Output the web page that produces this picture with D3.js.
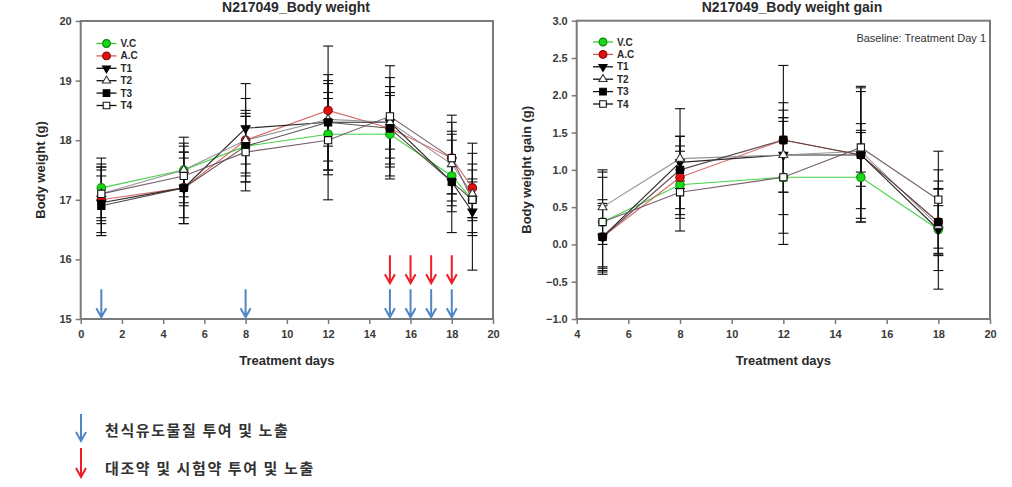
<!DOCTYPE html>
<html><head><meta charset="utf-8">
<script src="https://cdn.jsdelivr.net/npm/d3@7"></script>
<style>
body{margin:0;background:#fff;}
svg{display:block;font-family:"Liberation Sans",Arial,sans-serif;}
</style></head>
<body><svg id="c" width="1012" height="487"></svg>
<script>
// ---------- DATA ----------
const seriesNames = ["V.C","A.C","T1","T2","T3","T4"];
const daysBW = [1,5,8,12,15,18,19];
const bwVC = [17.2,17.5,17.9,18.1,18.1,17.4,17.0];
const bwAC = [17.0,17.2,18.0,18.5,18.2,17.7,17.2];
const bwT1 = [16.95,17.2,18.2,18.3,18.3,17.3,16.8];
const bwT2 = [17.1,17.5,18.0,18.35,18.3,17.6,17.1];
const bwT3 = [16.9,17.2,17.9,18.3,18.2,17.3,17.0];
const bwT4 = [17.1,17.4,17.8,18.0,18.4,17.7,17.0];
const bwSdVC = [0.5,0.55,0.5,0.6,0.7,0.6,0.3];
const bwSdAC = [0.55,0.6,0.7,1.08,0.6,0.6,0.75];
const bwSdT1 = [0.55,0.5,0.75,0.65,0.45,0.4,0.98];
const bwSdT2 = [0.45,0.45,0.4,0.45,0.6,0.5,0.4];
const bwSdT3 = [0.5,0.6,0.6,0.8,0.85,0.85,0.35];
const bwSdT4 = [0.5,0.5,0.65,1.0,0.85,0.72,0.6];

const daysG = [5,8,12,15,18];
const gVC = [0.3,0.8,0.9,0.9,0.2];
const gAC = [0.1,0.9,1.4,1.2,0.3];
const gT1 = [0.1,1.1,1.2,1.2,0.2];
const gT2 = [0.5,1.15,1.2,1.25,0.25];
const gT3 = [0.1,1.0,1.4,1.2,0.3];
const gT4 = [0.3,0.7,0.9,1.3,0.6];
const gSdVC = [0.6,0.45,0.75,0.6,0.8];
const gSdAC = [0.5,0.42,0.5,0.85,0.44];
const gSdT1 = [0.45,0.35,0.5,0.42,0.32];
const gSdT2 = [0.5,0.3,0.5,0.28,0.6];
const gSdT3 = [0.42,0.82,1.0,0.9,0.45];
const gSdT4 = [0.67,0.3,0.9,0.82,0.65];

const bwXTicks = [0,2,4,6,8,10,12,14,16,18,20];
const bwYTicks = [15,16,17,18,19,20];
const gXTicks = [4,6,8,10,12,14,16,18,20];
const gYTicks = [-1.0,-0.5,0.0,0.5,1.0,1.5,2.0,2.5,3.0];

const inductionDays = [1,8,15,16,17,18];
const treatmentDays = [15,16,17,18];
const legendTexts = ["천식유도물질 투여 및 노출","대조약 및 시험약 투여 및 노출"];

// ---------- STYLE ----------
const styles = {
  "V.C":{line:"#33cc33", sym:d3.symbolCircle, size:56, fill:"#19d819", stroke:"#0a8a0a", rot:0},
  "A.C":{line:"#d45a5a", sym:d3.symbolCircle, size:56, fill:"#e01010", stroke:"#8a0a0a", rot:0},
  "T1":{line:"#111111", sym:d3.symbolTriangle, size:34, fill:"#000", stroke:"#000", rot:180},
  "T2":{line:"#8a8a8a", sym:d3.symbolTriangle, size:34, fill:"#fff", stroke:"#333", rot:0},
  "T3":{line:"#4a3a3a", sym:d3.symbolSquare, size:52, fill:"#000", stroke:"#000", rot:0},
  "T4":{line:"#6a5060", sym:d3.symbolSquare, size:52, fill:"#fff", stroke:"#111", rot:0}
};
const frameColor = "#7a7a7a";
const textColor = "#2a2a2a";

const svg = d3.select("#c");
svg.append("rect").attr("width",1012).attr("height",487).attr("fill","#fff");

function panel(opts){
  const {x, y, xTicks, yTicks, yFmt, days, vals, sds, title, ytitle, ytitleX, titleX, legendX, legendY} = opts;
  const g = svg.append("g");
  const [x0,x1] = x.range(), [y0,y1] = y.range();
  seriesNames.forEach((s,i)=>{
    const pts = days.map((d,j)=>({d, v:vals[i][j], sd:sds[i][j]}));
    const eb = g.append("g").attr("stroke","#111").attr("stroke-width",1.1);
    pts.forEach(p=>{
      const cx = x(p.d), yt = y(p.v+p.sd), yb = y(p.v-p.sd);
      eb.append("line").attr("x1",cx).attr("x2",cx).attr("y1",yt).attr("y2",yb);
      eb.append("line").attr("x1",cx-5).attr("x2",cx+5).attr("y1",yt).attr("y2",yt);
      eb.append("line").attr("x1",cx-5).attr("x2",cx+5).attr("y1",yb).attr("y2",yb);
    });
  });
  seriesNames.forEach((s,i)=>{
    const pts = days.map((d,j)=>[x(d), y(vals[i][j])]);
    g.append("path").attr("d", d3.line()(pts)).attr("fill","none")
      .attr("stroke",styles[s].line).attr("stroke-width",1.1).attr("opacity",0.9);
  });
  seriesNames.forEach((s,i)=>{
    const st = styles[s];
    days.forEach((d,j)=>{
      g.append("path").attr("d", d3.symbol(st.sym, st.size)())
        .attr("transform",`translate(${x(d)},${y(vals[i][j])}) rotate(${st.rot})`)
        .attr("fill",st.fill).attr("stroke",st.stroke).attr("stroke-width",1.1);
    });
  });
  g.append("rect").attr("x",x0).attr("y",y1).attr("width",x1-x0).attr("height",y0-y1)
    .attr("fill","none").attr("stroke",frameColor).attr("stroke-width",2);
  const ax = d3.axisBottom(x).tickValues(xTicks).tickSize(5).tickPadding(6).tickFormat(d3.format("d"));
  const gx = g.append("g").attr("transform",`translate(0,${y0})`).call(ax);
  const ay = d3.axisLeft(y).tickValues(yTicks).tickSize(5).tickPadding(4).tickFormat(yFmt);
  const gy = g.append("g").attr("transform",`translate(${x0},0)`).call(ay);
  [gx,gy].forEach(a=>{
    a.select(".domain").remove();
    a.selectAll(".tick line").attr("stroke",frameColor).attr("stroke-width",1.5);
    a.selectAll(".tick text").attr("fill","#3a3a3a").style("font-size","11px").style("font-weight","bold")
      .style("font-family","'Liberation Sans',Arial,sans-serif");
  });
  g.append("text").attr("x",titleX).attr("y",12).attr("text-anchor","middle")
    .style("font-size","14px").style("font-weight","bold").attr("fill",textColor).text(title);
  g.append("text").attr("x",(x0+x1)/2).attr("y",365).attr("text-anchor","middle")
    .style("font-size","13px").style("font-weight","bold").attr("fill",textColor).text("Treatment days");
  g.append("text").attr("transform",`translate(${ytitleX},${(y0+y1)/2}) rotate(-90)`).attr("text-anchor","middle")
    .style("font-size","13px").style("font-weight","bold").attr("fill",textColor).text(ytitle);
  seriesNames.forEach((s,i)=>{
    const st = styles[s];
    const ly = legendY + i*12.4;
    const lineCol = (s==="V.C"||s==="A.C") ? st.line : "#111";
    g.append("line").attr("x1",legendX-10).attr("x2",legendX+10).attr("y1",ly).attr("y2",ly)
      .attr("stroke",lineCol).attr("stroke-width",1.3);
    g.append("path").attr("d", d3.symbol(st.sym, st.size*0.85)())
      .attr("transform",`translate(${legendX},${ly}) rotate(${st.rot})`)
      .attr("fill",st.fill).attr("stroke",st.stroke).attr("stroke-width",1.1);
    g.append("text").attr("x",legendX+14).attr("y",ly+3.5).style("font-size","10px").style("font-weight","bold")
      .attr("fill",textColor).text(s);
  });
  return g;
}

const xL = d3.scaleLinear().domain([0,20]).range([80.7,493]);
const yL = d3.scaleLinear().domain([15,20]).range([319,21]);
panel({x:xL, y:yL, xTicks:bwXTicks, yTicks:bwYTicks, yFmt:d3.format("d"), days:daysBW,
  vals:[bwVC,bwAC,bwT1,bwT2,bwT3,bwT4], sds:[bwSdVC,bwSdAC,bwSdT1,bwSdT2,bwSdT3,bwSdT4],
  title:"N217049_Body weight", ytitle:"Body weight (g)", ytitleX:45, titleX:296, legendX:106.5, legendY:43.5});

const xR = d3.scaleLinear().domain([4,20]).range([576.7,990]);
const yR = d3.scaleLinear().domain([-1,3]).range([319,20.7]);
const gR = panel({x:xR, y:yR, xTicks:gXTicks, yTicks:gYTicks, yFmt:d3.format(".1f"), days:daysG,
  vals:[gVC,gAC,gT1,gT2,gT3,gT4], sds:[gSdVC,gSdAC,gSdT1,gSdT2,gSdT3,gSdT4],
  title:"N217049_Body weight gain", ytitle:"Body weight gain (g)", ytitleX:531, titleX:792, legendX:603, legendY:42});
gR.append("text").attr("x",986).attr("y",41.5).attr("text-anchor","end").style("font-size","11px")
  .attr("fill","#333").text("Baseline: Treatment Day 1");

const blueCol = "#4f86c6", redCol = "#ee1c25";
function arrow(cx, yTop, yTip, col){
  svg.append("path")
    .attr("d",`M${cx},${yTop}L${cx},${yTip}M${cx-5},${yTip-9}L${cx},${yTip}L${cx+5},${yTip-9}`)
    .attr("fill","none").attr("stroke",col).attr("stroke-width",2);
}
inductionDays.forEach(d=>arrow(xL(d), yL(15.5), yL(15.03), blueCol));
treatmentDays.forEach(d=>arrow(xL(d), yL(16.07), yL(15.6), redCol));

arrow(81, 414, 441, blueCol);
arrow(81, 448, 477, redCol);
legendTexts.forEach((t,i)=>{
  svg.append("text").attr("x",105).attr("y",436 + i*37.5)
    .style("font-family","'Noto Sans CJK KR',sans-serif").style("font-size","15px").style("font-weight","bold")
    .style("letter-spacing","1.6px").attr("fill","#333").text(t);
});
</script></body></html>
